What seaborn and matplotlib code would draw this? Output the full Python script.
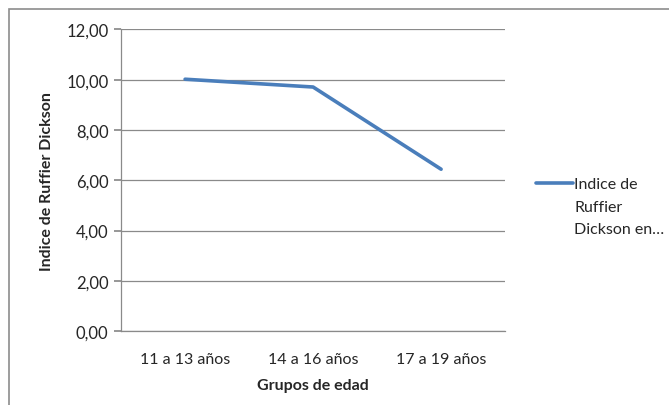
import matplotlib

matplotlib.use("Agg")
import matplotlib.pyplot as plt
import pandas as pd
import seaborn as sns
from matplotlib.patches import Rectangle
from matplotlib.ticker import FuncFormatter, MultipleLocator

# data
grupos = ["11 a 13 años", "14 a 16 años", "17 a 19 años"]
indice = [10.02, 9.71, 6.44]
serie = "Indice de\nRuffier\nDickson en…"

y_ticks_step = 2.0

sns.set_theme(style="white")
plt.rcParams["font.family"] = ["Lato", "DejaVu Sans"]

df = pd.DataFrame({"grupo": grupos, "indice": indice, "serie": serie})

fig = plt.figure(figsize=(6.69, 4.06), dpi=100)
fig.patches.append(
    Rectangle((0.014, -0.1), 1.2, 1.075, transform=fig.transFigure,
              fill=False, edgecolor="#8c8c8c", linewidth=1.2)
)
ax = fig.add_axes([0.181, 0.182, 0.574, 0.743])

sns.lineplot(data=df, x="grupo", y="indice", hue="serie", ax=ax,
             palette=["#4A7EBB"], linewidth=2.6, sort=False)

ax.set_xlim(-0.5, len(grupos) - 0.5)
ax.set_ylim(0, 12)
ax.yaxis.set_major_locator(MultipleLocator(y_ticks_step))
ax.yaxis.set_major_formatter(FuncFormatter(lambda v, _: f"{v:.2f}".replace(".", ",")))
ax.grid(axis="y", color="#8a8a8a", linewidth=0.9)
ax.grid(axis="x", visible=False)
for side in ["top", "right"]:
    ax.spines[side].set_visible(False)
for side in ["left", "bottom"]:
    ax.spines[side].set_color("#8a8a8a")
    ax.spines[side].set_linewidth(0.9)
ax.tick_params(axis="y", left=True, length=5, color="#8a8a8a", labelsize=12, pad=4)
ax.tick_params(axis="x", bottom=False, labelsize=11.5, pad=9)

ax.set_xlabel("Grupos de edad", fontsize=11.5, fontweight="bold", labelpad=9)
ax.set_ylabel("Indice de Ruffier Dickson", fontsize=11.5, fontweight="bold", labelpad=9)

leg = ax.legend(loc="upper left", bbox_to_anchor=(1.08, 0.51), frameon=False,
                handlelength=2.3, handletextpad=0.12, fontsize=11.5,
                borderaxespad=0, borderpad=0)
for col in leg._legend_handle_box.get_children():
    for row in col.get_children():
        row.align = "top"
for txt in leg.get_texts():
    txt.set_linespacing(1.75)

fig.savefig("out.png", dpi=100)
